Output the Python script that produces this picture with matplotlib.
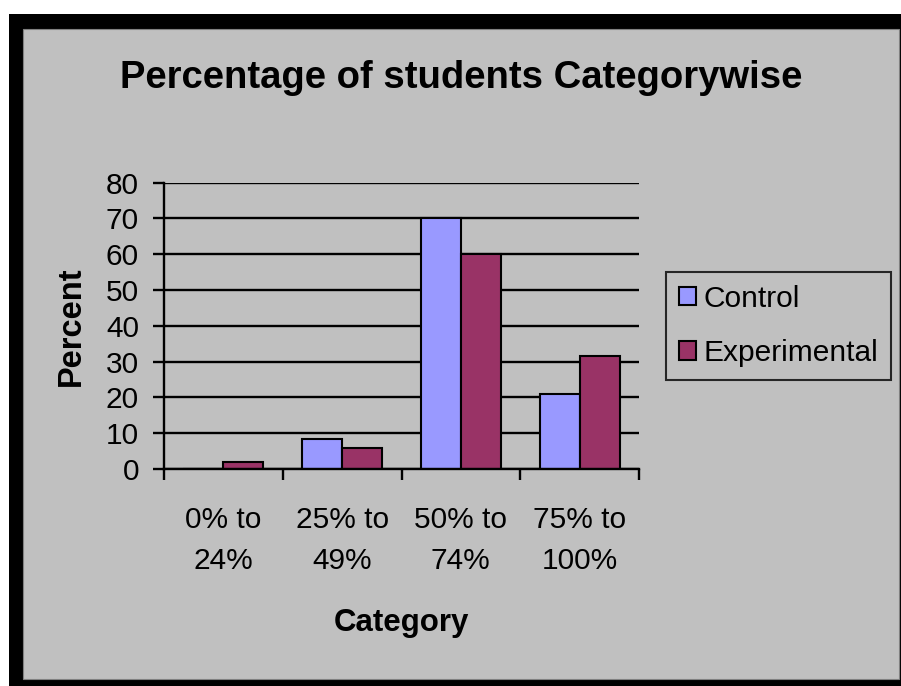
import matplotlib
matplotlib.use("Agg")
import matplotlib.pyplot as plt
from matplotlib.patches import Rectangle
import numpy as np

plt.rcParams['font.family'] = ['Liberation Sans', 'DejaVu Sans']

# Percent of students in each score band
categories = ["0% to\n24%", "25% to\n49%", "50% to\n74%", "75% to\n100%"]
control = [0, 8.3, 70, 21]
experimental = [2, 6, 60, 31.5]
yticks = [0, 10, 20, 30, 40, 50, 60, 70, 80]

W, H = 901, 686
fig = plt.figure(figsize=(W / 100, H / 100), dpi=100, facecolor="white")

# black outer frame with grey chart area inside
fig.add_artist(Rectangle((9 / W, 0), (W - 9) / W, (H - 14) / H,
                         transform=fig.transFigure, facecolor="black",
                         edgecolor="none", zorder=-10))
fig.add_artist(Rectangle((23 / W, (H - 679) / H), (899 - 23) / W, (679 - 29) / H,
                         transform=fig.transFigure, facecolor="#c0c0c0",
                         edgecolor="#808080", linewidth=0.8, zorder=-9))

ax = fig.add_axes([164 / W, (H - 469) / H, 475 / W, (469 - 182.5) / H])
ax.set_facecolor("#c0c0c0")
ax.patch.set_alpha(0)

x = np.arange(len(categories))
bw = 0.336
ax.bar(x - bw / 2, control, bw, color="#9999ff", edgecolor="black",
       linewidth=1.5, label="Control", zorder=3)
ax.bar(x + bw / 2, experimental, bw, color="#993366", edgecolor="black",
       linewidth=1.5, label="Experimental", zorder=3)

ax.set_xlim(-0.5, 3.5)
ax.set_ylim(0, 80)
ax.set_yticks(yticks)
ax.yaxis.grid(True, color="black", linewidth=1.7, zorder=0)
ax.set_axisbelow(True)

for side in ("top", "right"):
    ax.spines[side].set_visible(False)
for side in ("left", "bottom"):
    ax.spines[side].set_linewidth(1.7)
    ax.spines[side].set_zorder(4)

ax.set_xticks(x)
ax.set_xticklabels(categories, fontsize=21.5, linespacing=1.55)
ax.set_xticks(np.arange(-0.5, 4.0, 1.0), minor=True)
ax.tick_params(axis="x", which="major", length=0, pad=27)
ax.tick_params(axis="x", which="minor", length=8, width=1.7, direction="out")
ax.tick_params(axis="y", length=8, width=1.7, direction="out", pad=10,
               labelsize=21.5)

ax.set_ylabel("Percent", fontsize=23.5, fontweight="bold", labelpad=14)
ax.set_xlabel("Category", fontsize=22.5, fontweight="bold", labelpad=24)

fig.text(461 / W, 1 - 78 / H, "Percentage of students Categorywise",
         fontsize=27.5, fontweight="bold", ha="center", va="center")

leg = fig.legend(loc="upper left", bbox_to_anchor=(666 / W, 1 - 272 / H),
                 fontsize=21.5, frameon=True, fancybox=False,
                 handlelength=0.6, handleheight=0.6, handletextpad=0.25,
                 labelspacing=0.9, borderpad=0.42, borderaxespad=0)
leg.get_frame().set_edgecolor("black")
leg.get_frame().set_facecolor("#c0c0c0")
leg.get_frame().set_linewidth(1.5)

fig.savefig("out.png", dpi=100, facecolor="white")
